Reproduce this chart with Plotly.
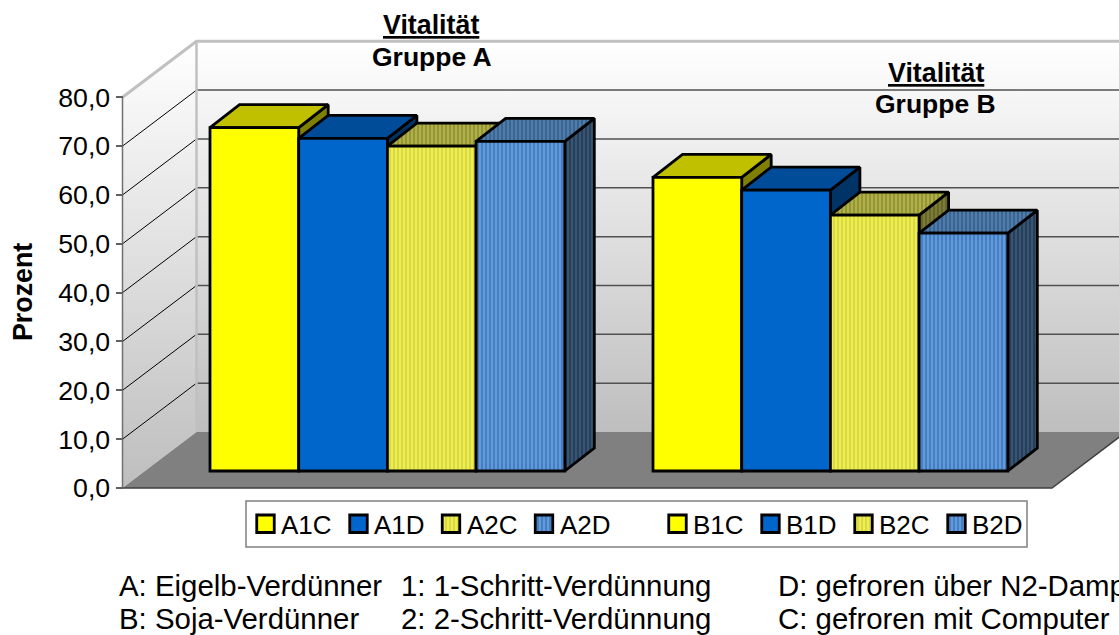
import plotly.graph_objects as go

# ---- data ----
categories = ["A1C", "A1D", "A2C", "A2D", "B1C", "B1D", "B2C", "B2D"]
values = [70.3, 68.1, 66.5, 67.5, 60.1, 57.5, 52.4, 48.7]
tick_values = [0, 10, 20, 30, 40, 50, 60, 70, 80]
tick_labels = ["0,0", "10,0", "20,0", "30,0", "40,0", "50,0", "60,0", "70,0", "80,0"]
notes_a = ["A: Eigelb-Verdünner", "B: Soja-Verdünner"]
notes_b = ["1: 1-Schritt-Verdünnung", "2: 2-Schritt-Verdünnung"]
notes_c = ["D: gefroren über N2-Dampf", "C: gefroren mit Computer"]

# ---- layout constants ----
W, H = 1119, 635
Y0 = 488.0           # pixel row of value 0 on the axis
S = 4.884            # pixels per percent
AX = 122.5           # pixel column of the value axis
DX, DY = 74.0, 56.0  # full chart depth
BDX, BDY = 29.5, 23.0  # bar depth
BAR_W = 88.7
LIFT_PX = 17.0
GROUP_X = [210.0, 653.0]
FONT = "Liberation Sans, Arial, sans-serif"
EDGE = 2.8

def v(py):
    return (Y0 - py) / S

LIFT = LIFT_PX / S
BAR_DZ = BDY / S
WALL_DZ = DY / S
bar_left = [GROUP_X[i // 4] + (i % 4) * BAR_W for i in range(8)]

STYLES = [
    dict(front="#FFFF00", top="#C0C000", side="#808000", pat=None),
    dict(front="#0066CC", top="#004C99", side="#003366", pat=None),
    dict(front="#EDED55", top="#B0B045", side="#7C7C36", pat="#DADA40"),
    dict(front="#6699D6", top="#4F7CAA", side="#365676", pat="#4280C6"),
]
GRID_DARK = "#505050"

fig = go.Figure()

def poly(xs, ys, color=None, pat=None, line_w=0, line_c="black", **kw):
    t = dict(x=xs, y=ys, mode="lines", fill="toself", hoverinfo="skip", showlegend=False,
             line=dict(width=line_w, color=line_c))
    if color:
        t["fillcolor"] = color
    if pat:
        t["fillpattern"] = dict(shape="|", bgcolor=color, fgcolor=pat, size=4, solidity=0.5, fillmode="replace")
    t.update(kw)
    fig.add_trace(go.Scatter(**t))

def seg(xs, ys, color, width):
    fig.add_trace(go.Scatter(x=xs, y=ys, mode="lines", hoverinfo="skip", showlegend=False,
                             line=dict(color=color, width=width)))

grad = dict(type="vertical", colorscale=[[0, "#BEBEBE"], [1, "#FFFFFF"]])
BX = AX + DX
RIGHT = 1052.0 + DX

# back wall
poly([BX, RIGHT, RIGHT, BX, BX], [WALL_DZ, WALL_DZ, 80 + WALL_DZ, 80 + WALL_DZ, WALL_DZ],
     fillgradient=grad)
# left wall
poly([AX, BX, BX, AX, AX], [0, WALL_DZ, 80 + WALL_DZ, 80, 0], fillgradient=grad)
# floor
poly([AX, 1052.0, RIGHT, BX, AX], [0, 0, WALL_DZ, WALL_DZ, 0], color="#808080")

# grid lines
for t in tick_values[1:]:
    seg([AX, BX], [t, t + WALL_DZ], "#000000", 1)
    if t < 80:
        seg([BX, RIGHT], [t + WALL_DZ, t + WALL_DZ], GRID_DARK, 1.5)
# wall outlines
seg([AX, BX, RIGHT], [80, 80 + WALL_DZ, 80 + WALL_DZ], "#C0C0C0", 3)
seg([BX, BX], [WALL_DZ, 80 + WALL_DZ], "#C0C0C0", 2.5)
seg([AX, 1052.0, RIGHT], [0, 0, WALL_DZ], "#404040", 1.5)
seg([AX, AX], [0, 80], "#707070", 1.5)

# bar depth faces, left to right
for i, val in enumerate(values):
    st = STYLES[i % 4]
    x0 = bar_left[i]
    x1 = x0 + BAR_W
    top = val + LIFT
    poly([x1, x1 + BDX, x1 + BDX, x1, x1], [LIFT, LIFT + BAR_DZ, top + BAR_DZ, top, LIFT],
         color=st["side"], pat=None if not st["pat"] else "#2A3E58" if i % 4 == 3 else "#66662A",
         line_w=EDGE)
    poly([x0, x1, x1 + BDX, x0 + BDX, x0], [top, top, top + BAR_DZ, top + BAR_DZ, top],
         color=st["top"], pat=None if not st["pat"] else "#3C6490" if i % 4 == 3 else "#94943A",
         line_w=EDGE)

# bar fronts
def bar(xc, base, height, st, width, lw, **kw):
    marker = dict(color=st["front"], line=dict(color="black", width=lw))
    if st["pat"]:
        marker["pattern"] = dict(shape="|", bgcolor=st["front"], fgcolor=st["pat"], size=4,
                                 solidity=0.5, fillmode="replace")
    fig.add_trace(go.Bar(x=[xc], y=[height], base=base, width=width, marker=marker,
                         xaxis="x2", yaxis="y2", showlegend=False, **kw))

for i, val in enumerate(values):
    bar(bar_left[i] + BAR_W / 2, LIFT, val, STYLES[i % 4], BAR_W, EDGE,
        name=categories[i], hovertemplate="%{x}<extra></extra>")

# legend
LEG_X = [256, 349, 441.5, 534.5, 668, 761, 854, 947]
for i, name in enumerate(categories):
    bar(LEG_X[i] + 9.5, v(532.5), v(515) - v(532.5), STYLES[i % 4], 17.5, EDGE, hoverinfo="skip")

shapes = [dict(type="rect", xref="x", yref="y", x0=246, x1=1027, y0=v(547), y1=v(501),
               line=dict(color="#808080", width=1.5), fillcolor="white", layer="below")]

ann = []
def text(x, py, s, size=20, bold=False, anchor="left", under=False):
    font = dict(family=FONT, size=size, color="black")
    if under:
        font["lineposition"] = "under"
    ann.append(dict(xref="x", yref="y", x=x, y=v(py), text=f"<b>{s}</b>" if bold else s,
                    showarrow=False, xanchor=anchor, yanchor="middle", font=font))

for i, name in enumerate(categories):
    text(LEG_X[i] + 23, 524.5, name, 26)
for r, py in enumerate([585.5, 618.5]):
    text(116.5, py, notes_a[r], 29.4)
    text(399, py, notes_b[r], 29.4)
    text(776, py, notes_c[r], 29.4)

text(431, 25, "Vitalität", 26.8, True, "center", True)
text(431.5, 57, "Gruppe A", 26.5, True, "center")
text(935.5, 73, "Vitalität", 26.8, True, "center", True)
text(935.5, 104, "Gruppe B", 26.5, True, "center")
ann.append(dict(xref="x", yref="y", x=23, y=v(292), text="<b>Prozent</b>", textangle=-90,
                showarrow=False, font=dict(family=FONT, size=26.8, color="black")))

yr = [v(H), v(0)]
fig.update_layout(
    width=W, height=H, margin=dict(l=0, r=0, t=0, b=0), autosize=False,
    paper_bgcolor="white", plot_bgcolor="white", barmode="overlay",
    showlegend=False, shapes=shapes, annotations=ann,
    xaxis=dict(range=[0, W], domain=[0, 1], visible=False, fixedrange=True),
    xaxis2=dict(range=[0, W], domain=[0, 1], visible=False, overlaying="x", fixedrange=True),
    yaxis=dict(range=yr, domain=[0, 1], anchor="free", position=AX / W, side="left",
               tickmode="array", tickvals=tick_values, ticktext=tick_labels,
               ticks="outside", ticklen=7, tickwidth=1.5, tickcolor="#606060",
               tickfont=dict(family=FONT, size=26.7, color="black"),
               showgrid=False, zeroline=False, showline=False, fixedrange=True),
    yaxis2=dict(range=yr, domain=[0, 1], overlaying="y", visible=False, fixedrange=True),
)

fig.write_html("out.html", config=dict(displayModeBar=False),
               post_script="document.body.style.margin='0';")
